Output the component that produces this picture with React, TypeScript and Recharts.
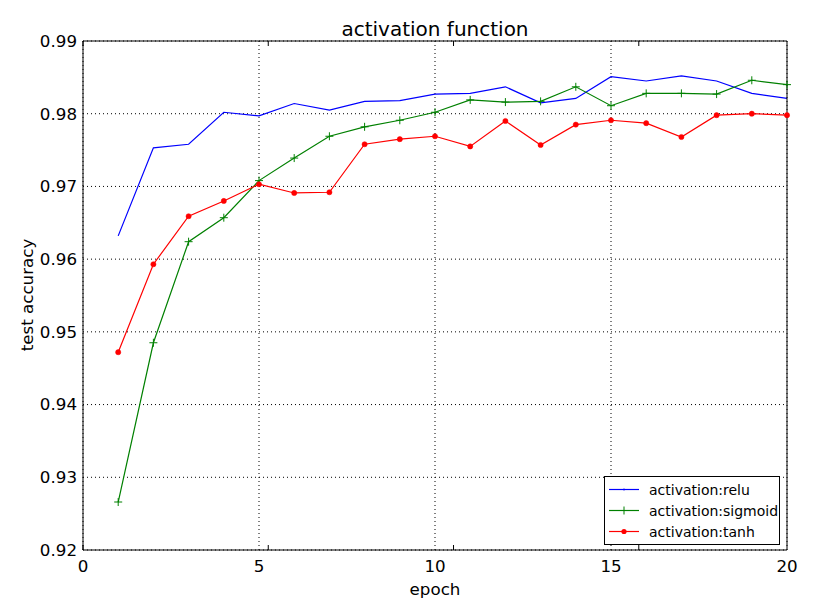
import { CartesianGrid, Legend, Line, LineChart, XAxis, YAxis } from 'recharts';

const epochs = [1, 2, 3, 4, 5, 6, 7, 8, 9, 10, 11, 12, 13, 14, 15, 16, 17, 18, 19, 20];
const relu = [0.9632, 0.9753, 0.9758, 0.9802, 0.9797, 0.9814, 0.9805, 0.9817, 0.9818, 0.9827, 0.9828, 0.9837, 0.9815, 0.9821, 0.9851, 0.9845, 0.9852, 0.9845, 0.9828, 0.9821];
const sigmoid = [0.9266, 0.9485, 0.9624, 0.9657, 0.9708, 0.9739, 0.9769, 0.9782, 0.9791, 0.9802, 0.9819, 0.9816, 0.9817, 0.9837, 0.9811, 0.9828, 0.9828, 0.9827, 0.9846, 0.9840];
const tanh = [0.9472, 0.9593, 0.9659, 0.9680, 0.9703, 0.9691, 0.9692, 0.9758, 0.9765, 0.9769, 0.9755, 0.9790, 0.9757, 0.9785, 0.9791, 0.9787, 0.9768, 0.9798, 0.9800, 0.9798];
const xTicks = [0, 5, 10, 15, 20];
const yTicks = [0.92, 0.93, 0.94, 0.95, 0.96, 0.97, 0.98, 0.99];

const data = epochs.map((e, i) => ({ epoch: e, relu: relu[i], sigmoid: sigmoid[i], tanh: tanh[i] }));

const FONT = '"DejaVu Sans", sans-serif';
const empty = () => <g />;

const PlusDot = (p: any) => (
  <path key={p.index} d={`M${p.cx - 4},${p.cy}h8M${p.cx},${p.cy - 4}v8`} stroke="#008000" strokeWidth={1} fill="none" />
);
const RoundDot = (p: any) => <circle key={p.index} cx={p.cx} cy={p.cy} r={2.6} fill="#ff0000" stroke="#ff0000" strokeWidth={0.5} />;

const markerFor: Record<string, string> = { relu: 'pixel', sigmoid: 'plus', tanh: 'dot' };

function LegendBox({ payload }: any) {
  return (
    <div style={{ border: '1px solid #000', background: '#fff', width: 176, padding: '2px 0', boxSizing: 'border-box', fontFamily: FONT, fontSize: 14, color: '#000' }}>
      {(payload || []).map((p: any) => {
        const m = markerFor[p.dataKey];
        return (
          <div key={p.dataKey} style={{ display: 'flex', alignItems: 'center', height: 21 }}>
            <svg width={44} height={21} style={{ flex: 'none' }}>
              <line x1={4} x2={34} y1={10.5} y2={10.5} stroke={p.color} strokeWidth={1.2} />
              {m === 'plus' && <path d="M15,10.5h8M19,6.5v8" stroke={p.color} strokeWidth={1} />}
              {m === 'dot' && <circle cx={19} cy={10.5} r={2.6} fill={p.color} />}
              {m === 'pixel' && <path d="M19,9.5v2" stroke={p.color} strokeWidth={1} />}
            </svg>
            <span>{p.value}</span>
          </div>
        );
      })}
    </div>
  );
}

export default function App() {
  return (
    <div style={{ position: 'absolute', left: 0, top: 0, width: 815, height: 615, background: '#fff', fontFamily: FONT }}>
      <div style={{ position: 'absolute', left: 83, width: 704, top: 17, textAlign: 'center', fontSize: 20, color: '#000' }}>activation function</div>
      <div style={{ position: 'absolute', left: 83, width: 704, top: 579, textAlign: 'center', fontSize: 16.7, color: '#000' }}>epoch</div>
      <div style={{ position: 'absolute', left: 27, top: 295, transform: 'translate(-50%, -50%) rotate(-90deg)', whiteSpace: 'nowrap', fontSize: 16.7, color: '#000' }}>test accuracy</div>
      <LineChart width={815} height={615} data={data} margin={{ top: 41, right: 28, bottom: 35, left: 23 }}>
        <CartesianGrid stroke="#000" strokeDasharray="1 3" horizontalValues={yTicks} verticalValues={xTicks} />
        <XAxis dataKey="epoch" type="number" domain={[0, 20]} ticks={xTicks} height={30} axisLine={false} tickLine={false} tickMargin={4}
          tick={{ fill: '#000', fontSize: 16.7, fontFamily: FONT }} />
        <YAxis type="number" domain={[0.92, 0.99]} ticks={yTicks} width={60} axisLine={false} tickLine={false} tickMargin={0}
          tickFormatter={(v: number) => v.toFixed(2)} tick={{ fill: '#000', fontSize: 16.7, fontFamily: FONT }} />
        <XAxis xAxisId="b2" type="number" domain={[0, 20]} ticks={xTicks} orientation="bottom" mirror tickSize={5}
          stroke="#000" axisLine={{ stroke: '#000' }} tickLine={{ stroke: '#000' }} tick={empty} />
        <XAxis xAxisId="t2" type="number" domain={[0, 20]} ticks={xTicks} orientation="top" mirror tickSize={5}
          stroke="#000" axisLine={{ stroke: '#000' }} tickLine={{ stroke: '#000' }} tick={empty} />
        <YAxis yAxisId="l2" type="number" domain={[0.92, 0.99]} ticks={yTicks} orientation="left" mirror tickSize={5}
          stroke="#000" axisLine={{ stroke: '#000' }} tickLine={{ stroke: '#000' }} tick={empty} />
        <YAxis yAxisId="r2" type="number" domain={[0.92, 0.99]} ticks={yTicks} orientation="right" mirror tickSize={5}
          stroke="#000" axisLine={{ stroke: '#000' }} tickLine={{ stroke: '#000' }} tick={empty} />
        <Line dataKey="relu" name="activation:relu" stroke="#0000ff" strokeWidth={1.2} dot={false} activeDot={false} isAnimationActive={false} />
        <Line dataKey="sigmoid" name="activation:sigmoid" stroke="#008000" strokeWidth={1.2} dot={PlusDot} activeDot={false} isAnimationActive={false} />
        <Line dataKey="tanh" name="activation:tanh" stroke="#ff0000" strokeWidth={1.2} dot={RoundDot} activeDot={false} isAnimationActive={false} />
        <Legend layout="vertical" align="center" verticalAlign="middle" content={<LegendBox />}
          wrapperStyle={{ left: 604, top: 476, width: 176, height: 66 }} />
      </LineChart>
    </div>
  );
}
